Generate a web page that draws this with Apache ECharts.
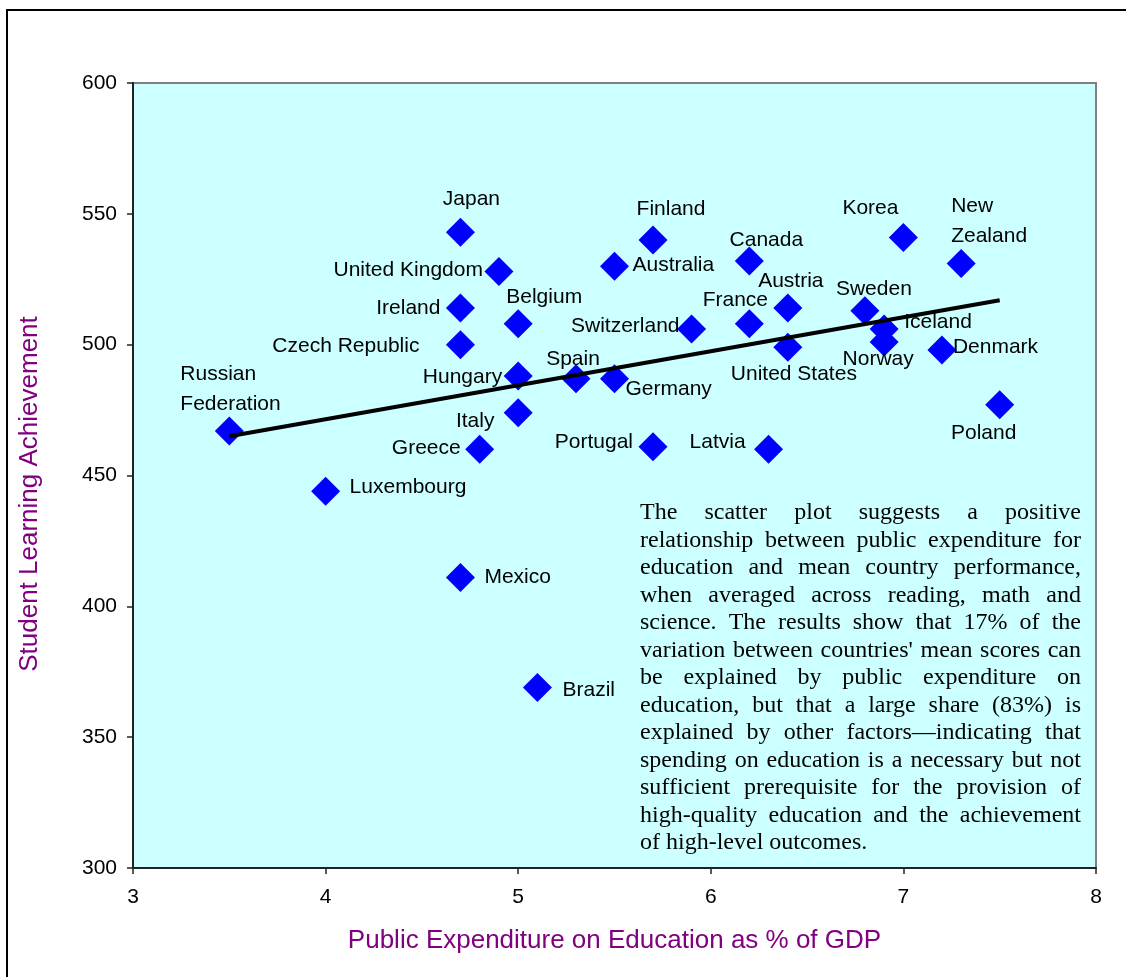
<!DOCTYPE html>
<html>
<head>
<meta charset="utf-8">
<title>Education spending vs achievement</title>
<script src="https://cdn.jsdelivr.net/npm/echarts@6/dist/echarts.min.js"></script>
<style>
  html, body { margin: 0; padding: 0; background: #fff; }
  #chart { width: 1126px; height: 977px; }
</style>
</head>
<body>
<div id="chart"></div>
<script>
// data
var countries = ['Russian Federation', 'Luxembourg', 'Japan', 'United Kingdom', 'Ireland', 'Czech Republic', 'Mexico',
  'Greece', 'Belgium', 'Hungary', 'Italy', 'Brazil', 'Spain', 'Australia', 'Germany', 'Finland', 'Portugal',
  'Switzerland', 'Canada', 'France', 'Latvia', 'Austria', 'United States', 'Sweden', 'Iceland', 'Norway',
  'Korea', 'Denmark', 'New Zealand', 'Poland'];
var spending = [3.5, 4.0, 4.7, 4.9, 4.7, 4.7, 4.7, 4.8, 5.0, 5.0, 5.0, 5.1, 5.3, 5.5, 5.5, 5.7, 5.7,
  5.9, 6.2, 6.2, 6.3, 6.4, 6.4, 6.8, 6.9, 6.9, 7.0, 7.2, 7.3, 7.5];
var achievement = [467, 444, 543, 528, 514, 500, 411, 460, 508, 488, 474, 369, 487, 530, 487, 540, 461,
  506, 532, 508, 460, 514, 499, 513, 506, 501, 541, 498, 531, 477];
var trendX = [3.5, 7.5];
var trendY = [465, 517];
var xTicks = [3, 4, 5, 6, 7, 8];
var yTicks = [300, 350, 400, 450, 500, 550, 600];

var noteLines = [
  'The scatter plot suggests a positive',
  'relationship between public expenditure for',
  'education and mean country performance,',
  'when averaged across reading, math and',
  'science. The results show that 17% of the',
  "variation between countries' mean scores can",
  'be explained by public expenditure on',
  'education, but that a large share (83%) is',
  'explained by other factors\u2014indicating that',
  'spending on education is a necessary but not',
  'sufficient prerequisite for the provision of',
  'high-quality education and the achievement',
  'of high-level outcomes.'
];

// label placement (offset from marker centre), as dragged in the original
var labelPlace = {
  'Russian Federation': ['left', -49, -42],
  'Luxembourg': ['left', 24, -4],
  'Japan': ['center', 11, -33],
  'United Kingdom': ['right', -16, -1],
  'Ireland': ['right', -20, 0],
  'Czech Republic': ['right', -41, 2],
  'Mexico': ['left', 24, 0],
  'Greece': ['right', -19, -1],
  'Belgium': ['center', 26, -27],
  'Hungary': ['right', -16, 1],
  'Italy': ['center', -43, 9],
  'Brazil': ['left', 25, 3],
  'Spain': ['center', -3, -19],
  'Australia': ['left', 18, -1],
  'Germany': ['left', 11, 11],
  'Finland': ['center', 18, -31],
  'Portugal': ['right', -20, -5],
  'Switzerland': ['right', -12, -3],
  'Canada': ['center', 17, -21],
  'France': ['center', -14, -24],
  'Latvia': ['right', -23, -7],
  'Austria': ['center', 3, -27],
  'United States': ['center', 6, 27],
  'Sweden': ['center', 9, -21],
  'Iceland': ['left', 20, -7],
  'Norway': ['center', -6, 17],
  'Korea': ['center', -33, -29],
  'Denmark': ['left', 11, -3],
  'New Zealand': ['left', -10, -42],
  'Poland': ['center', -16, 28]
};
var twoLine = { 'Russian Federation': 'Russian\nFederation', 'New Zealand': 'New\nZealand' };

var sans = '"Liberation Sans", Arial, sans-serif';
var serif = '"Liberation Serif", "Times New Roman", serif';

var points = countries.map(function(c, i) {
  var p = labelPlace[c];
  return {
    name: c,
    value: [spending[i], achievement[i]],
    label: {
      show: true,
      position: 'inside',
      align: p[0],
      verticalAlign: 'middle',
      offset: [p[1], p[2]],
      formatter: twoLine[c] || c
    }
  };
});

// justified note box, word by word
var ctx = document.createElement('canvas').getContext('2d');
var noteFont = 24;
ctx.font = noteFont + 'px ' + serif;
var boxLeft = 640, boxRight = 1081, lineTop = 513, lineStep = 27.5;
var graphics = [
  {
    type: 'rect', z: -10, silent: true,
    shape: { x: 7, y: 10, width: 1200, height: 1000 },
    style: { fill: 'none', stroke: '#000', lineWidth: 2 }
  },
  {
    type: 'text', rotation: Math.PI / 2, x: 30, y: 494,
    style: { text: 'Student Learning Achievement', font: '26px ' + sans, fill: '#800080',
      textAlign: 'center', textVerticalAlign: 'middle' }
  }
];
noteLines.forEach(function(line, i) {
  var y = lineTop + i * lineStep;
  var words = line.split(' ');
  if (i === noteLines.length - 1 || words.length < 2) {
    graphics.push({ type: 'text', z: 100, x: boxLeft, y: y,
      style: { text: line, font: noteFont + 'px ' + serif, fill: '#000', textVerticalAlign: 'middle' } });
    return;
  }
  var widths = words.map(function(w) { return ctx.measureText(w).width; });
  var total = widths.reduce(function(a, b) { return a + b; }, 0);
  var gap = (boxRight - boxLeft - total) / (words.length - 1);
  var x = boxLeft;
  words.forEach(function(w, j) {
    graphics.push({ type: 'text', z: 100, x: x, y: y,
      style: { text: w, font: noteFont + 'px ' + serif, fill: '#000', textVerticalAlign: 'middle' } });
    x += widths[j] + gap;
  });
});

var myChart = echarts.init(document.getElementById('chart'));
var option = {
  animation: false,
  textStyle: { fontFamily: sans },
  grid: {
    left: 133, top: 83, right: 30, bottom: 109,
    show: true, backgroundColor: '#CCFFFF', borderColor: '#808080', borderWidth: 2
  },
  xAxis: {
    type: 'value', min: xTicks[0], max: xTicks[xTicks.length - 1], interval: 1,
    name: 'Public Expenditure on Education as % of GDP',
    nameLocation: 'middle', nameGap: 60,
    nameTextStyle: { color: '#800080', fontSize: 26, fontFamily: sans },
    axisLine: { lineStyle: { color: '#222', width: 2 } },
    axisTick: { show: true, length: 6, lineStyle: { color: '#222', width: 1.5 } },
    axisLabel: { color: '#000', fontSize: 21, margin: 19, fontFamily: sans },
    splitLine: { show: false }
  },
  yAxis: {
    type: 'value', min: yTicks[0], max: yTicks[yTicks.length - 1], interval: 50,
    axisLine: { show: true, lineStyle: { color: '#222', width: 2 } },
    axisTick: { show: true, length: 6, lineStyle: { color: '#222', width: 1.5 } },
    axisLabel: { color: '#000', fontSize: 21, margin: 16, fontFamily: sans },
    splitLine: { show: false }
  },
  series: [
    {
      name: 'countries',
      type: 'scatter',
      symbol: 'diamond',
      symbolSize: 29,
      itemStyle: { color: '#0000FF', opacity: 1 },
      label: { color: '#000', opacity: 1, fontSize: 21, fontFamily: sans, lineHeight: 30 },
      data: points,
      z: 2
    },
    {
      name: 'trend',
      type: 'line',
      showSymbol: false,
      symbol: 'none',
      lineStyle: { color: '#000', width: 4, opacity: 1 },
      data: trendX.map(function(x, i) { return [x, trendY[i]]; }),
      z: 3
    }
  ],
  graphic: graphics
};
myChart.setOption(option);
</script>
</body>
</html>
